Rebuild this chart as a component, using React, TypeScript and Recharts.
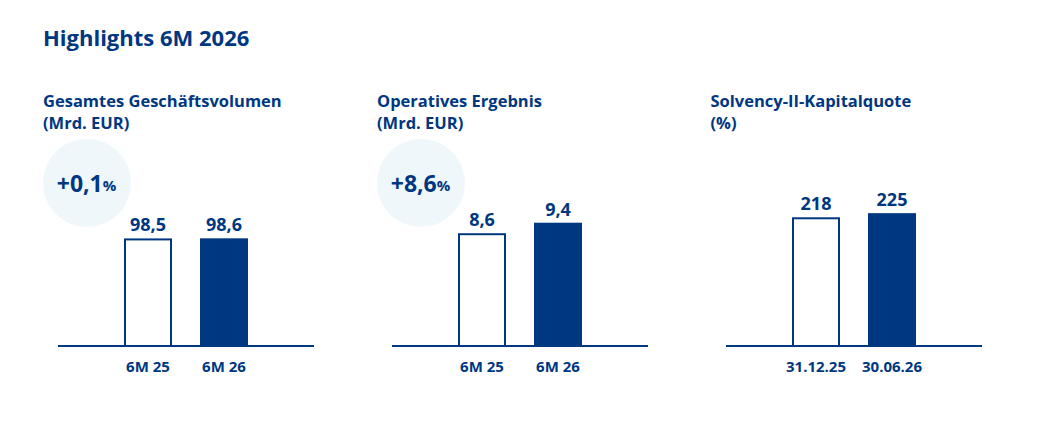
import { BarChart, Bar, XAxis, YAxis, LabelList } from 'recharts'

const BLUE = '#003781'
const BADGE = '#f0f7fa'
const FONT = '"Open Sans", sans-serif'

const heading = 'Highlights 6M 2026'
const panelTitles = ['Gesamtes Geschäftsvolumen', 'Operatives Ergebnis', 'Solvency-II-Kapitalquote']
const panelUnits = ['(Mrd. EUR)', '(Mrd. EUR)', '(%)']
const changeLabels = ['+0,1', '+8,6', '']

const volumeCategories = ['6M 25', '6M 26']
const volumeValues = [98.5, 98.6]
const resultCategories = ['6M 25', '6M 26']
const resultValues = [8.6, 9.4]
const solvencyCategories = ['31.12.25', '30.06.26']
const solvencyValues = [218, 225]

const decimals = [1, 1, 0]
const domainMax = [146.5, 12.2, 271]
const panelLeft = [0, 334, 667.5]

const panels = [
  { categories: volumeCategories, values: volumeValues },
  { categories: resultCategories, values: resultValues },
  { categories: solvencyCategories, values: solvencyValues },
]

// first bar is an outline (stroke kept inside the box), second is solid
const PanelBar = (props: any) => {
  const { x, y, width, height, index } = props
  if (index === 0) {
    return (
      <rect x={x + 1} y={y + 1} width={width - 2} height={height - 1}
        fill="#fff" stroke={BLUE} strokeWidth={2} />
    )
  }
  return <rect x={x} y={y} width={width} height={height} fill={BLUE} />
}

function Panel({ index }: { index: number }) {
  const { categories, values } = panels[index]
  const data = categories.map((c, i) => ({ name: c, value: values[i] }))
  const left = panelLeft[index]
  const fmt = (v: any) => Number(v).toFixed(decimals[index]).replace('.', ',')

  return (
    <>
      <div style={{ position: 'absolute', left: 43 + left, top: 90, fontSize: 16.5, lineHeight: '22px', fontWeight: 700, color: BLUE }}>
        <div>{panelTitles[index]}</div>
        <div>{panelUnits[index]}</div>
      </div>
      {changeLabels[index] && (
        <div style={{
          position: 'absolute', left: 42.5 + left, top: 139, width: 88, height: 88, borderRadius: '50%',
          background: BADGE, display: 'flex', alignItems: 'center', justifyContent: 'center', color: BLUE, fontWeight: 700,
        }}>
          <span style={{ fontSize: 23 }}>{changeLabels[index]}</span>
          <span style={{ fontSize: 15, marginTop: 3 }}>%</span>
        </div>
      )}
      <div style={{ position: 'absolute', left: 58 + left, top: 150 }}>
        <BarChart width={256} height={226} data={data} margin={{ top: 36, right: 0, bottom: 0, left: 0 }}>
          <XAxis
            dataKey="name"
            padding={{ left: 52, right: 52 }}
            axisLine={{ stroke: BLUE, strokeWidth: 2 }}
            tickLine={false}
            tickSize={6}
            tickMargin={9}
            height={30}
            tick={{ fill: BLUE, fontSize: 15, fontWeight: 700, fontFamily: FONT }}
            interval={0}
          />
          <YAxis hide domain={[0, domainMax[index]]} />
          <Bar dataKey="value" barSize={48} isAnimationActive={false} shape={PanelBar}>
            <LabelList dataKey="value" position="top" offset={7} formatter={fmt}
              style={{ fill: BLUE, fontSize: 18, fontWeight: 700, fontFamily: FONT }} />
          </Bar>
        </BarChart>
      </div>
    </>
  )
}

export default function App() {
  return (
    <div style={{ position: 'absolute', left: 0, top: 0, width: 1041, height: 429, background: '#fff', fontFamily: FONT, overflow: 'hidden' }}>
      <div style={{ position: 'absolute', left: 43, top: 22, fontSize: 22, fontWeight: 700, color: BLUE }}>{heading}</div>
      {panels.map((_, i) => <Panel key={i} index={i} />)}
    </div>
  )
}
